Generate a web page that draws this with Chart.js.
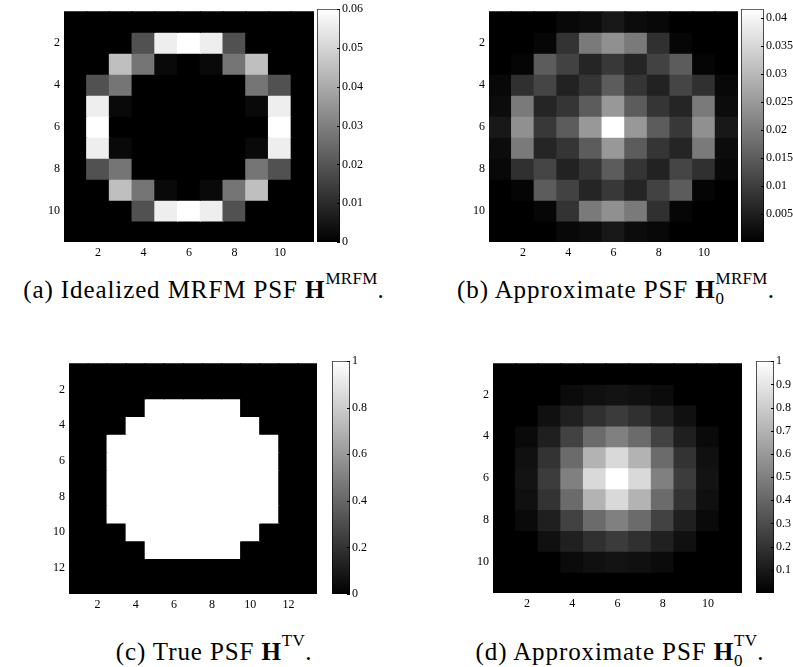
<!DOCTYPE html>
<html><head><meta charset="utf-8">
<script src="https://cdn.jsdelivr.net/npm/chart.js@4"></script>
<style>
html,body{margin:0;padding:0;background:#fff;}
body{width:793px;height:667px;position:relative;overflow:hidden;}
canvas{position:absolute;}
.cap{position:absolute;font-family:"Liberation Serif","Times New Roman",serif;font-size:25px;line-height:25px;white-space:nowrap;transform:translateX(-50%);color:#000;letter-spacing:0.9px;}
.sup{position:relative;top:-0.85em;font-size:0.68em;letter-spacing:0.3px;}
.ss{position:relative;display:inline-block;font-size:0.68em;letter-spacing:0.3px;}
.ss .u{position:relative;top:-0.85em;}
.ss .d{position:absolute;left:0;top:0.35em;}
</style></head><body>
<canvas id="hA" width="314" height="262" style="left:0;top:0"></canvas>
<canvas id="cA" width="60" height="262" style="left:317px;top:0"></canvas>
<canvas id="hB" width="318" height="262" style="left:420px;top:0"></canvas>
<canvas id="cB" width="52" height="262" style="left:741px;top:0"></canvas>
<canvas id="hC" width="317" height="262" style="left:0;top:352px"></canvas>
<canvas id="cC" width="60" height="262" style="left:332px;top:352px"></canvas>
<canvas id="hD" width="322" height="261" style="left:420px;top:352px"></canvas>
<canvas id="cD" width="37" height="261" style="left:756px;top:352px"></canvas>

<div class="cap" style="left:204px;top:277px">(a) Idealized MRFM PSF <b>H</b><span class="sup">MRFM</span>.</div>
<div class="cap" style="left:616px;top:277px">(b) Approximate PSF <b>H</b><span class="ss"><span class="u">MRFM</span><span class="d">0</span></span>.</div>
<div class="cap" style="left:214px;top:639px">(c) True PSF <b>H</b><span class="sup">TV</span>.</div>
<div class="cap" style="left:620px;top:639px">(d) Approximate PSF <b>H</b><span class="ss"><span class="u">TV</span><span class="d">0</span></span>.</div>

<script>
// ---------- data ----------
const cols11 = ['1','2','3','4','5','6','7','8','9','10','11'];
const cols13 = ['1','2','3','4','5','6','7','8','9','10','11','12','13'];

// (a) Idealized MRFM PSF
const valuesA = [
  [0,0,0,0,0,0,0,0,0,0,0],
  [0,0,0,0.019,0.056,0.060,0.056,0.019,0,0,0],
  [0,0,0.045,0.0275,0.002,0,0.002,0.0275,0.045,0,0],
  [0,0.019,0.0275,0,0,0,0,0,0.0275,0.019,0],
  [0,0.056,0.002,0,0,0,0,0,0.002,0.056,0],
  [0,0.060,0,0,0,0,0,0,0,0.060,0],
  [0,0.056,0.002,0,0,0,0,0,0.002,0.056,0],
  [0,0.019,0.0275,0,0,0,0,0,0.0275,0.019,0],
  [0,0,0.045,0.0275,0.002,0,0.002,0.0275,0.045,0,0],
  [0,0,0,0.019,0.056,0.060,0.056,0.019,0,0,0],
  [0,0,0,0,0,0,0,0,0,0,0]
];
// (b) Approximate MRFM PSF
const valuesB = [
  [0,0,0,0.0013,0.002,0.0039,0.002,0.0013,0,0,0],
  [0,0,0.001,0.0083,0.0199,0.0234,0.0199,0.0078,0.001,0,0],
  [0,0.0008,0.015,0.0107,0.006,0.0091,0.006,0.0107,0.015,0.0008,0],
  [0.0013,0.0078,0.0112,0.0055,0.0086,0.015,0.0086,0.0055,0.0112,0.0078,0.0013],
  [0.002,0.0199,0.006,0.0086,0.015,0.0247,0.015,0.0086,0.006,0.0199,0.002],
  [0.0039,0.0234,0.0091,0.015,0.0247,0.0415,0.0247,0.015,0.0091,0.0234,0.0039],
  [0.002,0.0199,0.006,0.0086,0.015,0.0247,0.015,0.0086,0.006,0.0199,0.002],
  [0.0013,0.0078,0.0112,0.0055,0.0086,0.015,0.0086,0.0055,0.0112,0.0078,0.0013],
  [0,0.0008,0.015,0.0107,0.006,0.0091,0.006,0.0107,0.015,0.0008,0],
  [0,0,0.001,0.0083,0.0199,0.0234,0.0199,0.0078,0.001,0,0],
  [0,0,0,0.0013,0.002,0.0039,0.002,0.0013,0,0,0]
];
// (c) True TV PSF
const valuesC = [
  [0,0,0,0,0,0,0,0,0,0,0,0,0],
  [0,0,0,0,0,0,0,0,0,0,0,0,0],
  [0,0,0,0,1,1,1,1,1,0,0,0,0],
  [0,0,0,1,1,1,1,1,1,1,0,0,0],
  [0,0,1,1,1,1,1,1,1,1,1,0,0],
  [0,0,1,1,1,1,1,1,1,1,1,0,0],
  [0,0,1,1,1,1,1,1,1,1,1,0,0],
  [0,0,1,1,1,1,1,1,1,1,1,0,0],
  [0,0,1,1,1,1,1,1,1,1,1,0,0],
  [0,0,0,1,1,1,1,1,1,1,0,0,0],
  [0,0,0,0,1,1,1,1,1,0,0,0,0],
  [0,0,0,0,0,0,0,0,0,0,0,0,0],
  [0,0,0,0,0,0,0,0,0,0,0,0,0]
];
// (d) Approximate TV PSF
const valuesD = [
  [0,0,0,0,0,0,0,0,0,0,0],
  [0,0,0,0.045,0.063,0.075,0.063,0.045,0,0,0],
  [0,0,0.063,0.125,0.19,0.23,0.19,0.125,0.063,0,0],
  [0,0.04,0.12,0.26,0.42,0.5,0.42,0.26,0.12,0.04,0],
  [0,0.063,0.2,0.42,0.7,0.85,0.7,0.42,0.2,0.063,0],
  [0,0.075,0.235,0.5,0.85,1,0.85,0.5,0.235,0.075,0],
  [0,0.063,0.2,0.42,0.7,0.85,0.7,0.42,0.2,0.063,0],
  [0,0.04,0.12,0.26,0.42,0.5,0.42,0.26,0.12,0.04,0],
  [0,0,0.063,0.125,0.19,0.23,0.19,0.125,0.063,0,0],
  [0,0,0,0.045,0.063,0.075,0.063,0.045,0,0,0],
  [0,0,0,0,0,0,0,0,0,0,0]
];

// tick labels
const axisTicks11 = [2,4,6,8,10];
const axisTicks13 = [2,4,6,8,10,12];
const cbTicksA = [0,0.01,0.02,0.03,0.04,0.05,0.06];
const cbTicksB = [0.005,0.01,0.015,0.02,0.025,0.03,0.035,0.04];
const cbTicksC = [0,0.2,0.4,0.6,0.8,1];
const cbTicksD = [0.1,0.2,0.3,0.4,0.5,0.6,0.7,0.8,0.9,1];
const cbMaxA = 0.06, cbMaxB = 0.0415, cbMaxC = 1, cbMaxD = 1;

// ---------- drawing ----------
const tickFont = {family: '"Liberation Serif", "Times New Roman", serif', size: 12};

function gray(v, max){
  const g = Math.round(Math.max(0, Math.min(1, v/max))*255);
  return 'rgb(' + g + ',' + g + ',' + g + ')';
}

function heatmap(id, cols, values, xTicks, yTicks, max, yw){
  const n = values.length;
  const datasets = values.map((row, r) => ({
    data: row.map(() => [r + 0.5, r + 1.5]),
    backgroundColor: row.map(v => gray(v, max)),
    borderWidth: 0,
    inflateAmount: 0.6,
    barPercentage: 1,
    categoryPercentage: 1,
    grouped: false
  }));
  new Chart(document.getElementById(id), {
    type: 'bar',
    data: {labels: cols, datasets: datasets},
    options: {
      responsive: false, animation: false, events: [],
      layout: {padding: {top: 9, left: 0, right: 0, bottom: 0}, autoPadding: false},
      plugins: {legend: {display: false}, tooltip: {enabled: false}},
      scales: {
        x: {
          type: 'category',
          grid: {display: false, drawTicks: false}, border: {display: false},
          ticks: {autoSkip: false, maxRotation: 0, padding: 4, font: tickFont, color: '#000',
            callback: (v, i) => xTicks.includes(Number(cols[i])) ? cols[i] : ''},
          afterFit: s => { s.height = 20; }
        },
        y: {
          type: 'linear', reverse: true, min: 0.5, max: n + 0.5,
          grid: {display: false, drawTicks: false}, border: {display: false},
          afterBuildTicks: s => { s.ticks = yTicks.map(v => ({value: v})); },
          ticks: {padding: 4, font: tickFont, color: '#000', callback: v => String(v)},
          afterFit: s => { s.width = yw; }
        }
      }
    }
  });
}

const cbTickMarks = {
  id: 'cbTickMarks',
  afterDatasetsDraw(chart){
    const y = chart.scales.y, a = chart.chartArea, c = chart.ctx;
    c.save(); c.strokeStyle = '#000'; c.lineWidth = 1;
    y.ticks.forEach(t => {
      const py = Math.round(y.getPixelForValue(t.value)) + 0.5;
      c.beginPath(); c.moveTo(a.right - 3, py); c.lineTo(a.right, py); c.stroke();
    });
    c.restore();
  }
};

function colorbar(id, max, ticks, yw, padBottom){
  new Chart(document.getElementById(id), {
    type: 'bar',
    data: {labels: [''], datasets: [{
      data: [[0, max]],
      backgroundColor: ctx => {
        const a = ctx.chart.chartArea;
        if (!a) return '#000';
        const g = ctx.chart.ctx.createLinearGradient(0, a.bottom, 0, a.top);
        g.addColorStop(0, '#000'); g.addColorStop(1, '#fff');
        return g;
      },
      borderColor: '#000', borderWidth: 1, borderSkipped: false,
      barPercentage: 1, categoryPercentage: 1
    }]},
    options: {
      responsive: false, animation: false, events: [],
      layout: {padding: {top: 9, left: 0, right: 0, bottom: padBottom}, autoPadding: false},
      plugins: {legend: {display: false}, tooltip: {enabled: false}},
      scales: {
        x: {display: false},
        y: {
          position: 'right', min: 0, max: max,
          grid: {display: false, drawTicks: false}, border: {display: false},
          afterBuildTicks: s => { s.ticks = ticks.map(v => ({value: v})); },
          ticks: {padding: 2, font: tickFont, color: '#000', callback: v => String(v)},
          afterFit: s => { s.width = yw; }
        }
      }
    },
    plugins: [cbTickMarks]
  });
}

heatmap('hA', cols11, valuesA, axisTicks11, axisTicks11, cbMaxA, 64);
colorbar('cA', cbMaxA, cbTicksA, 37, 20);
heatmap('hB', cols11, valuesB, axisTicks11, axisTicks11, cbMaxB, 69);
colorbar('cB', cbMaxB, cbTicksB, 29, 20);
heatmap('hC', cols13, valuesC, axisTicks13, axisTicks13, cbMaxC, 69);
colorbar('cC', cbMaxC, cbTicksC, 42, 20);
heatmap('hD', cols11, valuesD, axisTicks11, axisTicks11, cbMaxD, 73);
colorbar('cD', cbMaxD, cbTicksD, 19, 20);
</script>
</body></html>
